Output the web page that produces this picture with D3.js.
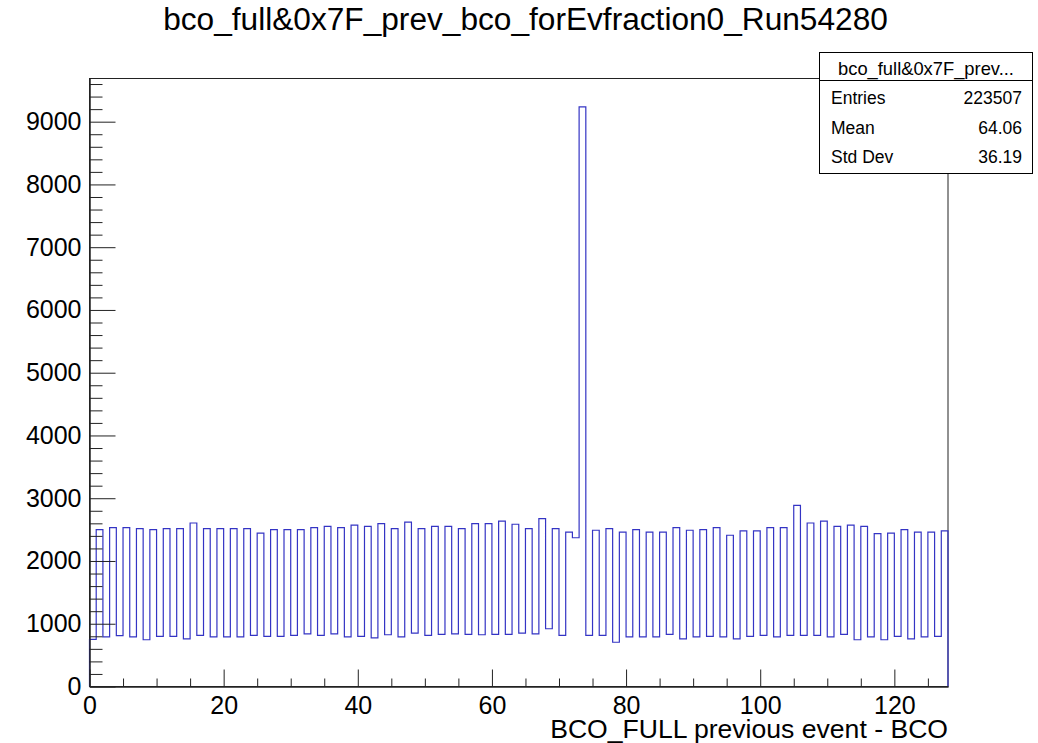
<!DOCTYPE html>
<html>
<head>
<meta charset="utf-8">
<script src="https://cdn.jsdelivr.net/npm/d3@7"></script>
<style>
  body { margin: 0; background: #fff; }
  svg { display: block; }
  text { font-family: "Liberation Sans", Arial, Helvetica, sans-serif; fill: #000; }
</style>
</head>
<body>
<svg id="c" width="1038" height="743"></svg>
<script>
// Histogram: bco_full & 0x7F minus previous bco, 128 unit-wide bins over [0, 128)
const title = "bco_full&0x7F_prev_bco_forEvfraction0_Run54280";
const xTitle = "BCO_FULL previous event - BCO";
const nBins = 128;
const xRange = [0, 128];
const counts = [
   750, 2500,  790, 2530,  810, 2530,  790, 2515,  745, 2500,
   800, 2515,  800, 2515,  760, 2605,  815, 2515,  790, 2515,
   790, 2515,  790, 2515,  815, 2445,  800, 2500,  800, 2500,
   815, 2500,  840, 2530,  815, 2550,  840, 2530,  790, 2570,
   800, 2550,  775, 2595,  825, 2515,  790, 2620,  850, 2515,
   815, 2550,  830, 2550,  840, 2515,  830, 2595,  825, 2595,
   830, 2635,  830, 2585,  850, 2515,  840, 2675,  920, 2515,
   815, 2460, 2370, 9235,  815, 2490,  815, 2515,  705, 2460,
   790, 2500,  790, 2460,  790, 2460,  830, 2530,  760, 2490,
   790, 2500,  800, 2530,  790, 2410,  760, 2480,  800, 2480,
   815, 2530,  790, 2530,  815, 2885,  815, 2605,  815, 2635,
   790, 2550,  830, 2570,  745, 2550,  790, 2435,  745, 2445,
   800, 2500,  760, 2460,  790, 2460,  800, 2480
];
const yMax = 9696;
const xMajorTicks = [0, 20, 40, 60, 80, 100, 120];
const xMinorTicks = [5, 10, 15, 25, 30, 35, 45, 50, 55, 65, 70, 75, 85, 90, 95, 105, 110, 115, 125];
const yMajorTicks = [0, 1000, 2000, 3000, 4000, 5000, 6000, 7000, 8000, 9000];
const yMinorTicks = d3.range(200, 9700, 200).filter(v => v % 1000 !== 0);

// Statistics box
const statsTitle = "bco_full&0x7F_prev...";
const statsLabels = ["Entries", "Mean", "Std Dev"];
const statsValues = ["223507", "64.06", "36.19"];

const svg = d3.select("#c");
const frame = { left: 89.5, right: 948, top: 78, bottom: 686.5 };

const x = d3.scaleLinear().domain(xRange).range([frame.left, frame.right]);
const y = d3.scaleLinear().domain([0, yMax]).range([frame.bottom, frame.top]);

const axisColor = "#222";
const tickFont = 25;

// Frame
svg.append("rect")
  .attr("x", frame.left).attr("y", frame.top + 0.5)
  .attr("width", frame.right - frame.left).attr("height", frame.bottom - frame.top - 0.5)
  .attr("fill", "none").attr("stroke", axisColor).attr("stroke-width", 1);

// Histogram outline (step)
const pts = [[0, 0]];
counts.forEach((c, i) => pts.push([i, c]));
pts.push([nBins, counts[nBins - 1]]);
pts.push([nBins, 0]);
const line = d3.line().x(d => x(d[0])).y(d => y(d[1])).curve(d3.curveStepAfter);
svg.append("path")
  .attr("d", line(pts))
  .attr("fill", "none")
  .attr("stroke", "#3434c4")
  .attr("stroke-width", 1.2);

// X axis: ticks point into the plot
const gx = svg.append("g").attr("transform", `translate(0,${frame.bottom})`);
gx.call(d3.axisBottom(x).tickValues(xMajorTicks).tickSizeInner(-17).tickSizeOuter(0).tickPadding(10).tickFormat(d3.format("d")));
const gxm = svg.append("g").attr("transform", `translate(0,${frame.bottom})`);
gxm.call(d3.axisBottom(x).tickValues(xMinorTicks).tickSizeInner(-8).tickSizeOuter(0).tickFormat(""));

// Y axis
const gy = svg.append("g").attr("transform", `translate(${frame.left},0)`);
gy.call(d3.axisLeft(y).tickValues(yMajorTicks).tickSizeInner(-26).tickSizeOuter(0).tickPadding(8).tickFormat(d3.format("d")));
const gym = svg.append("g").attr("transform", `translate(${frame.left},0)`);
gym.call(d3.axisLeft(y).tickValues(yMinorTicks).tickSizeInner(-13).tickSizeOuter(0).tickFormat(""));

[gx, gxm, gy, gym].forEach(g => {
  g.select(".domain").attr("stroke", axisColor);
  g.selectAll(".tick line").attr("stroke", axisColor).attr("stroke-width", 1);
  g.selectAll(".tick text")
    .attr("font-size", tickFont)
    .attr("font-family", '"Liberation Sans", Arial, Helvetica, sans-serif')
    .attr("fill", "#000");
});

function fitWidth(sel, w) {
  const fs = parseFloat(sel.attr("font-size"));
  const l = sel.node().getComputedTextLength();
  sel.attr("font-size", fs * w / l);
}

// Axis title
svg.append("text")
  .attr("x", frame.right).attr("y", 738)
  .attr("text-anchor", "end")
  .attr("font-size", 26.5)
  .text(xTitle)
  .call(s => fitWidth(s, 398));

// Main title
svg.append("text")
  .attr("x", 525.5).attr("y", 30)
  .attr("text-anchor", "middle")
  .attr("font-size", 28)
  .text(title)
  .call(s => fitWidth(s, 725));

// Statistics box
const box = { x: 819.5, y: 52.5, w: 213, h: 121, sep: 80.5 };
svg.append("rect")
  .attr("x", box.x).attr("y", box.y).attr("width", box.w).attr("height", box.h)
  .attr("fill", "#fff").attr("stroke", "#000").attr("stroke-width", 1);
svg.append("line")
  .attr("x1", box.x).attr("x2", box.x + box.w)
  .attr("y1", box.sep).attr("y2", box.sep)
  .attr("stroke", "#000").attr("stroke-width", 1);
svg.append("text")
  .attr("x", box.x + box.w / 2).attr("y", 74.5)
  .attr("text-anchor", "middle")
  .attr("font-size", 17)
  .text(statsTitle)
  .call(s => fitWidth(s, 176));

const rowY = [104, 134, 163];
statsLabels.forEach((lab, i) => {
  svg.append("text").attr("x", 831).attr("y", rowY[i]).attr("font-size", 17.5).text(lab);
  svg.append("text").attr("x", 1022).attr("y", rowY[i]).attr("text-anchor", "end").attr("font-size", 17.5).text(statsValues[i]);
});
</script>
</body>
</html>
